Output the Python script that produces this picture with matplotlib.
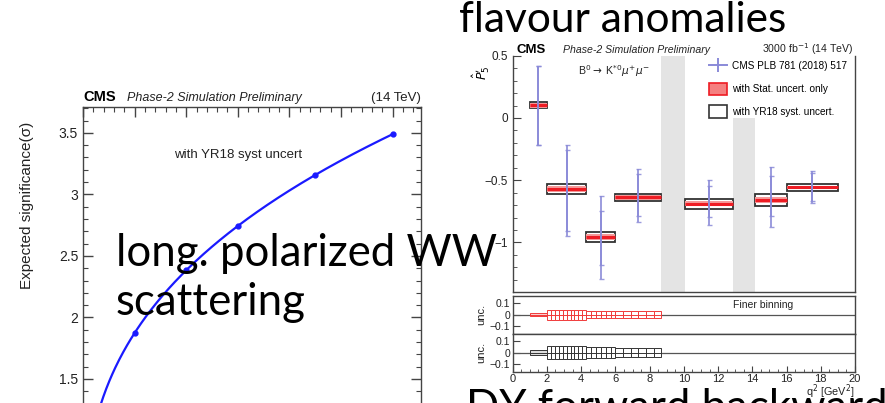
import numpy as np
import matplotlib
matplotlib.use("Agg")
import matplotlib.pyplot as plt
import matplotlib.transforms as mtransforms
from matplotlib.patches import Rectangle, Patch
from matplotlib.lines import Line2D
from matplotlib.ticker import MultipleLocator, NullFormatter

W, H = 885, 403
ROOT_FONT = "Liberation Sans"
SLIDE_FONT = "Lato"
plt.rcParams["font.family"] = ROOT_FONT
plt.rcParams["axes.unicode_minus"] = True

# ---- long. polarized WW scattering: expected significance vs luminosity
lumi = [500, 1000, 1500, 2250, 3000]
signif = [1.872, 2.386, 2.745, 3.157, 3.487]

# ---- P5' projection, B0 -> K*0 mu+ mu-
bin_lo = [1.0, 2.0, 4.3, 6.0, 10.09, 14.18, 16.0]
bin_hi = [2.0, 4.3, 6.0, 8.68, 12.86, 16.0, 19.0]
p5 = [0.103, -0.569, -0.957, -0.638, -0.690, -0.660, -0.558]
stat_unc = [0.020, 0.024, 0.022, 0.018, 0.020, 0.022, 0.015]
syst_unc = [0.025, 0.040, 0.040, 0.030, 0.040, 0.050, 0.030]
# CMS PLB 781 (2018) 517 errors (total and stat.)
cms_up_tot = [0.317, 0.352, 0.328, 0.229, 0.190, 0.268, 0.132]
cms_dn_tot = [0.322, 0.376, 0.336, 0.199, 0.167, 0.216, 0.123]
cms_up_stat = [0.317, 0.312, 0.207, 0.189, 0.142, 0.192, 0.120]
cms_dn_stat = [0.322, 0.341, 0.220, 0.148, 0.108, 0.130, 0.110]
veto_lo = [8.68, 12.86]
veto_hi = [10.09, 14.18]

# finer binning uncertainties
fine_edges = [1.0, 2.0, 2.23, 2.46, 2.69, 2.92, 3.15, 3.38, 3.61, 3.84, 4.07, 4.3,
              4.58, 4.87, 5.15, 5.43, 5.72, 6.0, 6.45, 6.89, 7.34, 7.79, 8.23, 8.68]
fine_stat = [0.016,
             0.046, 0.046, 0.046, 0.046, 0.046, 0.046, 0.046, 0.046, 0.046, 0.046,
             0.031, 0.031, 0.031, 0.031, 0.031, 0.031,
             0.034, 0.034, 0.034, 0.034, 0.034, 0.034]
fine_syst = [0.025,
             0.060, 0.060, 0.060, 0.060, 0.060, 0.060, 0.060, 0.060, 0.060, 0.060,
             0.050, 0.050, 0.050, 0.050, 0.050, 0.050,
             0.044, 0.044, 0.044, 0.044, 0.044, 0.044]


def fx(px):
    return px / W


def fy(py):
    return 1 - py / H


fig = plt.figure(figsize=(W / 100, H / 100), dpi=100)
FRAME = "#444444"


def frame(ax):
    for s in ax.spines.values():
        s.set_color(FRAME)
        s.set_linewidth(1.0)


# ================= left: WW significance =================
axL = fig.add_axes([fx(83), 0.0, fx(421) - fx(83), fy(107)])
frame(axL)
axL.spines["bottom"].set_visible(False)

# power-law fit through the points, drawn as the smooth curve
k, c = np.polyfit(np.log(lumi), np.log(signif), 1)
xs = np.linspace(120, lumi[-1], 300)
axL.plot(xs, np.exp(c) * xs ** k, color="#1a1aff", lw=1.6, zorder=3)
axL.plot(lumi, signif, "o", color="#1a1aff", ms=3.5, zorder=4)

axL.set_xlim(0, 3275)
axL.set_ylim(1.305, 3.71)
axL.xaxis.set_ticks_position("top")
axL.xaxis.set_major_locator(MultipleLocator(500))
axL.xaxis.set_minor_locator(MultipleLocator(100))
axL.xaxis.set_major_formatter(NullFormatter())
axL.yaxis.set_major_locator(MultipleLocator(0.5))
axL.yaxis.set_minor_locator(MultipleLocator(0.1))
axL.tick_params(which="both", direction="in", colors=FRAME, labelcolor="#222222",
                left=True, right=True, top=True, bottom=False, labelsize=10)
axL.tick_params(which="major", length=7, width=1)
axL.tick_params(which="minor", length=3.5, width=0.8)
axL.set_yticks([1.5, 2, 2.5, 3, 3.5])
axL.set_yticklabels(["1.5", "2", "2.5", "3", "3.5"])

fig.text(fx(27), fy(205), "Expected significance(σ)", rotation=90,
         ha="center", va="center", fontsize=11, color="#222222")
fig.text(fx(83), fy(101), "CMS", fontsize=10.5, fontweight="bold", va="baseline")
fig.text(fx(127), fy(101), "Phase-2 Simulation Preliminary", fontsize=9,
         style="italic", va="baseline", color="#222222")
fig.text(fx(421), fy(101), "(14 TeV)", fontsize=9.5, ha="right", va="baseline",
         color="#222222")
fig.text(fx(238), fy(158), "with YR18 syst uncert", fontsize=9.5, ha="center",
         va="baseline", color="#222222")

# ================= right: P5' =================
x0, x1 = fx(512.7), fx(855)
axP = fig.add_axes([x0, fy(292.3), x1 - x0, fy(55.7) - fy(292.3)])
frame(axP)
axP.spines["top"].set_visible(False)

for lo, hi in zip(veto_lo, veto_hi):
    axP.axvspan(lo, hi, color="#e4e4e4", lw=0, zorder=0)
# white backdrop behind the legend
blend = mtransforms.blended_transform_factory(axP.transAxes, axP.transData)
axP.add_patch(Rectangle((0.567, 0.0), 0.433, 0.5, transform=blend,
                        facecolor="white", edgecolor="none", zorder=1))

lo = np.array(bin_lo)
w = np.array(bin_hi) - lo
cen = lo + w / 2
val = np.array(p5)
syst = np.array(syst_unc)
stat = np.array(stat_unc)

axP.bar(lo, 2 * syst, width=w, bottom=val - syst, align="edge",
        facecolor="white", edgecolor="#333333", lw=1.3, zorder=2)
axP.bar(lo, 2 * stat, width=w, bottom=val - stat, align="edge",
        facecolor="#f69a9a", edgecolor="none", zorder=3)
axP.hlines(val, lo, lo + w, color="#ee1c24", lw=2.2, zorder=4)

blue = "#8a8ad8"
axP.errorbar(cen, val, yerr=[cms_dn_tot, cms_up_tot], fmt="none", ecolor=blue,
             elinewidth=1.4, capsize=1.8, capthick=1.0, alpha=0.85, zorder=5)
axP.errorbar(cen, val, yerr=[cms_dn_stat, cms_up_stat], fmt="none", ecolor=blue,
             elinewidth=1.4, capsize=1.8, capthick=1.0, alpha=0.85, zorder=5)

axP.set_xlim(0, 20)
axP.set_ylim(-1.4, 0.5)
axP.yaxis.set_major_locator(MultipleLocator(0.5))
axP.yaxis.set_minor_locator(MultipleLocator(0.1))
axP.set_yticks([-1, -0.5, 0, 0.5])
axP.set_yticklabels(["−1", "−0.5", "0", "0.5"])
axP.tick_params(axis="y", which="both", direction="in", colors=FRAME,
                labelcolor="#222222", labelsize=8.5)
axP.tick_params(axis="y", which="major", length=6)
axP.tick_params(axis="y", which="minor", length=3)
axP.tick_params(axis="x", which="both", bottom=False, labelbottom=False)
fig.text(fx(481), fy(73), r"$\hat{P}_5'$", rotation=90, ha="center", va="center",
         fontsize=9)

fig.text(fx(516.7), fy(53), "CMS", fontsize=9.5, fontweight="bold", va="baseline")
fig.text(fx(563), fy(53), "Phase-2 Simulation Preliminary", fontsize=7.6,
         style="italic", va="baseline", color="#222222")
fig.text(fx(853), fy(53), "3000 fb$^{-1}$ (14 TeV)", fontsize=7.6, ha="right",
         va="baseline", color="#222222")
fig.text(fx(578), fy(75), r"B$^{0}$$\rightarrow$ K$^{*0}$$\mu^{+}\mu^{-}$",
         fontsize=7.6, va="baseline", color="#222222")

handles = [
    Line2D([], [], color=blue, lw=1.4, marker="|", ms=10, mew=1.4),
    Patch(facecolor="#f58080", edgecolor="#ee1c24", lw=1.2),
    Patch(facecolor="white", edgecolor="#333333", lw=1.2),
]
labels = ["CMS PLB 781 (2018) 517", "with Stat. uncert. only",
          "with YR18 syst. uncert."]
fig.legend(handles, labels, loc="upper left", bbox_to_anchor=(fx(709), fy(60)),
           frameon=False, fontsize=7.2, handlelength=1.8, handleheight=1.5,
           handletextpad=0.5, labelspacing=1.05, borderaxespad=0, borderpad=0)

# ================= finer binning panels =================
fe = np.array(fine_edges)
flo = fe[:-1]
fw = np.diff(fe)
panels = [
    (333.7, 296.0, fine_stat, "#f03a3a", "#fbd0d0"),
    (371.7, 333.7, fine_syst, "#333333", "#dcdcdc"),
]
for i, (bot, top, unc, ec, fc) in enumerate(panels):
    ax = fig.add_axes([x0, fy(bot), x1 - x0, fy(top) - fy(bot)])
    frame(ax)
    u = np.array(unc)
    faces = [fc] + ["white"] * (len(u) - 1)
    ax.bar(flo, 2 * u, width=fw, bottom=-u, align="edge", color=faces,
           edgecolor=ec, lw=0.7, zorder=3)
    ax.axhline(0, color="#555555", lw=0.9, zorder=2)
    ax.axhline(0, xmin=0.05, xmax=0.434, color=ec, lw=0.7, zorder=4)
    ax.set_xlim(0, 20)
    ax.set_ylim(-0.17, 0.167)
    ax.set_yticks([-0.1, 0, 0.1])
    ax.set_yticklabels(["−0.1", "0", "0.1"])
    ax.tick_params(axis="y", direction="in", length=5, colors=FRAME,
                   labelcolor="#222222", labelsize=7.5, pad=2)
    ax.xaxis.set_major_locator(MultipleLocator(2))
    ax.xaxis.set_minor_locator(MultipleLocator(0.5))
    ax.tick_params(axis="x", which="both", direction="in", colors=FRAME,
                   labelcolor="#222222", labelsize=8, pad=2)
    ax.tick_params(axis="x", which="major", length=4)
    ax.tick_params(axis="x", which="minor", length=2)
    if i == 0:
        ax.tick_params(axis="x", which="both", bottom=False, labelbottom=False)
        ax.text(0.645, 0.76, "Finer binning", transform=ax.transAxes, fontsize=7.5,
                color="#222222", va="center")
    else:
        ax.set_xticks(range(0, 21, 2))
    fig.text(fx(481), fy((bot + top) / 2), "unc.", rotation=90, ha="center",
             va="center", fontsize=8, color="#222222")

fig.text(fx(855), fy(396), "q$^{2}$ [GeV$^{2}$]", ha="right", va="baseline",
         fontsize=7.8, color="#222222")

# ================= slide captions =================
cap = dict(family=SLIDE_FONT, fontsize=31.5, color="black", va="baseline", zorder=10)
fig.text(fx(116), fy(266), "long. polarized WW", **cap)
fig.text(fx(116), fy(315), "scattering", **cap)
fig.text(fx(459), fy(32), "flavour anomalies", **{**cap, "fontsize": 30.5})
fig.text(fx(466), fy(421), "DY forward backward", **cap)

fig.savefig("out.png", dpi=100)
